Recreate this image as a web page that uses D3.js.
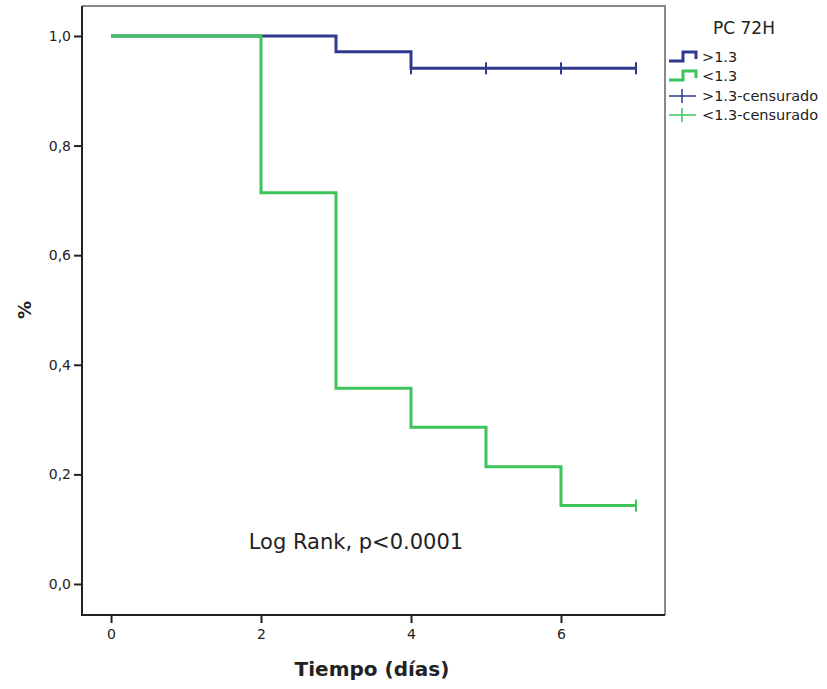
<!DOCTYPE html>
<html>
<head>
<meta charset="utf-8">
<script src="https://cdn.jsdelivr.net/npm/d3@7"></script>
<style>
  body { margin: 0; background: #fff; }
  text { font-family: "DejaVu Sans", sans-serif; fill: #222; }
</style>
</head>
<body>
<svg id="chart" width="827" height="689"></svg>
<script>
// Data (Kaplan-Meier steps)
const groups = [">1.3", "<1.3"];
const colors = ["#2f3a8f", "#3cc35a"];
// time of each step, survival after the step
const timesHigh = [0, 3, 4];
const survHigh = [1.0, 0.971, 0.941];
const endHigh = 7;
const censorHigh = [4, 5, 6, 7];

const timesLow = [0, 2, 3, 4, 5, 6];
const survLow = [1.0, 0.714, 0.357, 0.286, 0.214, 0.143];
const endLow = 7;
const censorLow = [7];

const xTicks = [0, 2, 4, 6];
const yTicks = [0, 0.2, 0.4, 0.6, 0.8, 1.0];
const legendLabels = [">1.3", "<1.3", ">1.3-censurado", "<1.3-censurado"];

const svg = d3.select("#chart");

// frame of the plot
const pLeft = 82, pRight = 665, pTop = 6, pBottom = 615;

const x = d3.scaleLinear().domain([-0.387, 7.387]).range([pLeft, pRight]);
const y = d3.scaleLinear().domain([-0.0566, 1.0547]).range([pBottom, pTop]);

// top + right border (grey)
svg.append("path")
    .attr("d", `M${pLeft},${pTop}H${pRight}V${pBottom}`)
    .attr("fill", "none")
    .attr("stroke", "#888")
    .attr("stroke-width", 2);

// Axes
const yAxis = d3.axisLeft(y).tickValues(yTicks).tickSize(8).tickPadding(3)
    .tickFormat(d => d3.format(".1f")(d).replace(".", ","));
const gy = svg.append("g").attr("transform", `translate(${pLeft},0)`).call(yAxis);

const xAxis = d3.axisBottom(x).tickValues(xTicks).tickSize(8).tickPadding(6);
const gx = svg.append("g").attr("transform", `translate(0,${pBottom})`).call(xAxis);

[gx, gy].forEach(g => {
    g.select(".domain").remove();
    g.selectAll("line").attr("stroke", "#222").attr("stroke-width", 2);
    g.selectAll("text").style("font-size", "14px").style("font-family", "DejaVu Sans, sans-serif").attr("fill", "#333");
});
// black axis lines
svg.append("path")
    .attr("d", `M${pLeft},${pTop}V${pBottom}H${pRight}`)
    .attr("fill", "none")
    .attr("stroke", "#222")
    .attr("stroke-width", 2);

// step curves
function stepPath(times, surv, end) {
    const pts = times.map((t, i) => [t, surv[i]]);
    pts.push([end, surv[surv.length - 1]]);
    return d3.line().x(d => x(d[0])).y(d => y(d[1])).curve(d3.curveStepAfter)(pts);
}

const series = [
    {times: timesHigh, surv: survHigh, end: endHigh, cens: censorHigh},
    {times: timesLow, surv: survLow, end: endLow, cens: censorLow}
];

series.forEach((s, i) => {
    svg.append("path")
        .attr("d", stepPath(s.times, s.surv, s.end))
        .attr("fill", "none")
        .attr("stroke", colors[i])
        .attr("stroke-width", 3);
    const last = s.surv[s.surv.length - 1];
    svg.selectAll(null).data(s.cens).enter().append("line")
        .attr("x1", d => x(d)).attr("x2", d => x(d))
        .attr("y1", y(last) - 6).attr("y2", y(last) + 6)
        .attr("stroke", colors[i])
        .attr("stroke-width", 2);
});

// Annotation
svg.append("text")
    .attr("x", 356).attr("y", 549)
    .attr("text-anchor", "middle")
    .style("font-size", "21px")
    .text("Log Rank, p<0.0001");

// Axis titles
svg.append("text")
    .attr("x", 372).attr("y", 676)
    .attr("text-anchor", "middle")
    .style("font-size", "20px").style("font-weight", "bold")
    .text("Tiempo (días)");

svg.append("text")
    .attr("transform", "translate(31,310) rotate(-90)")
    .attr("text-anchor", "middle")
    .style("font-size", "18px").style("font-weight", "bold")
    .text("%");

// Legend
svg.append("text")
    .attr("x", 744).attr("y", 34)
    .attr("text-anchor", "middle")
    .style("font-size", "17px")
    .text("PC 72H");

const legendY = [57, 76, 96, 115];
legendLabels.forEach((lab, i) => {
    const c = colors[i % 2];
    const ly = legendY[i];
    if (i < 2) {
        svg.append("path")
            .attr("d", `M669,${ly + 4}H683V${ly - 5}H696V${ly + 2}`)
            .attr("fill", "none").attr("stroke", c).attr("stroke-width", 3);
    } else {
        svg.append("line").attr("x1", 669).attr("x2", 696).attr("y1", ly).attr("y2", ly)
            .attr("stroke", c).attr("stroke-width", 1.5);
        svg.append("line").attr("x1", 682).attr("x2", 682).attr("y1", ly - 7).attr("y2", ly + 7)
            .attr("stroke", c).attr("stroke-width", 1.5);
    }
    svg.append("text")
        .attr("x", 702).attr("y", ly + 5)
        .style("font-size", "14.5px")
        .text(lab);
});
</script>
</body>
</html>
